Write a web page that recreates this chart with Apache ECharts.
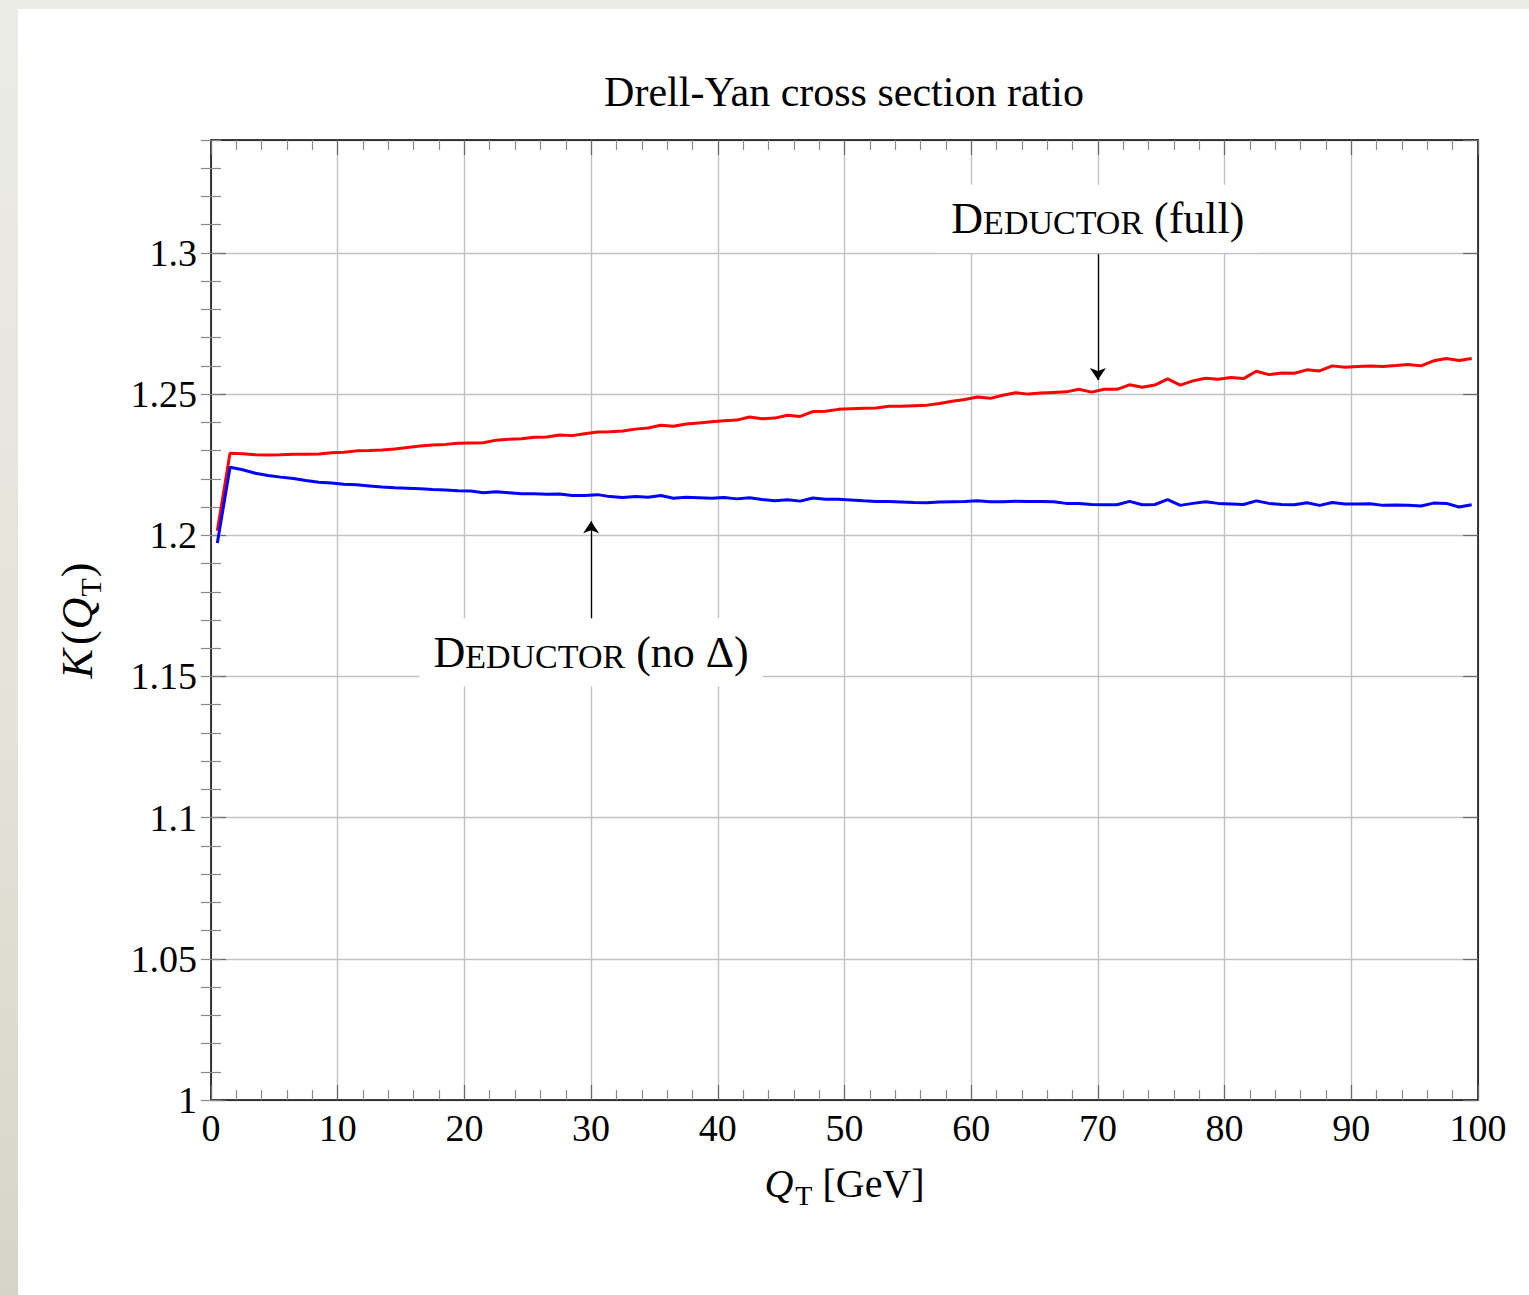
<!DOCTYPE html>
<html>
<head>
<meta charset="utf-8">
<title>Drell-Yan cross section ratio</title>
<script src="https://cdn.jsdelivr.net/npm/echarts@6/dist/echarts.min.js"></script>
<style>
  html, body { margin: 0; padding: 0; width: 1529px; height: 1295px; overflow: hidden;
    background: linear-gradient(180deg, #ecece6 0%, #e3e3da 55%, #d5d5c7 100%); }
  #page { position: absolute; left: 18px; top: 9px; right: 0; bottom: 0; background: #ffffff; }
  #chart { position: absolute; left: 0; top: 0; width: 1529px; height: 1295px; }
</style>
</head>
<body>
<div id="page"></div>
<div id="chart"></div>
<script>
// Bin centres of the transverse momentum Q_T [GeV]
const qt = [
  0.5, 1.5, 2.5, 3.5, 4.5, 5.5, 6.5, 7.5, 8.5, 9.5,
  10.5, 11.5, 12.5, 13.5, 14.5, 15.5, 16.5, 17.5, 18.5, 19.5,
  20.5, 21.5, 22.5, 23.5, 24.5, 25.5, 26.5, 27.5, 28.5, 29.5,
  30.5, 31.5, 32.5, 33.5, 34.5, 35.5, 36.5, 37.5, 38.5, 39.5,
  40.5, 41.5, 42.5, 43.5, 44.5, 45.5, 46.5, 47.5, 48.5, 49.5,
  50.5, 51.5, 52.5, 53.5, 54.5, 55.5, 56.5, 57.5, 58.5, 59.5,
  60.5, 61.5, 62.5, 63.5, 64.5, 65.5, 66.5, 67.5, 68.5, 69.5,
  70.5, 71.5, 72.5, 73.5, 74.5, 75.5, 76.5, 77.5, 78.5, 79.5,
  80.5, 81.5, 82.5, 83.5, 84.5, 85.5, 86.5, 87.5, 88.5, 89.5,
  90.5, 91.5, 92.5, 93.5, 94.5, 95.5, 96.5, 97.5, 98.5, 99.5
];

// K(Q_T), full Deductor shower
const kFull = [
  1.2016, 1.2291, 1.2289, 1.2285, 1.2284, 1.2285, 1.2287, 1.2287, 1.2288, 1.2292,
  1.2294, 1.2299, 1.2300, 1.2302, 1.2306, 1.2311, 1.2316, 1.2320, 1.2322, 1.2326,
  1.2327, 1.2328, 1.2337, 1.2340, 1.2342, 1.2347, 1.2348, 1.2355, 1.2353, 1.2360,
  1.2366, 1.2367, 1.2369, 1.2376, 1.2380, 1.2390, 1.2386, 1.2394, 1.2398, 1.2402,
  1.2406, 1.2408, 1.2419, 1.2413, 1.2415, 1.2425, 1.2421, 1.2438, 1.2439, 1.2446,
  1.2448, 1.2450, 1.2451, 1.2457, 1.2457, 1.2459, 1.2461, 1.2467, 1.2475, 1.2481,
  1.2490, 1.2485, 1.2496, 1.2505, 1.2500, 1.2504, 1.2506, 1.2508, 1.2517, 1.2507,
  1.2517, 1.2517, 1.2533, 1.2524, 1.2532, 1.2554, 1.2532, 1.2547, 1.2556, 1.2553,
  1.2559, 1.2555, 1.2581, 1.2569, 1.2575, 1.2574, 1.2586, 1.2582, 1.2600, 1.2595,
  1.2598, 1.2600, 1.2598, 1.2601, 1.2605, 1.2600, 1.2618, 1.2626, 1.2619, 1.2626
];

// K(Q_T), Deductor without the Delta factor
const kNoDelta = [
  1.1973, 1.2241, 1.2232, 1.2220, 1.2212, 1.2206, 1.2201, 1.2194, 1.2188, 1.2185,
  1.2181, 1.2179, 1.2175, 1.2171, 1.2168, 1.2167, 1.2165, 1.2162, 1.2160, 1.2158,
  1.2157, 1.2151, 1.2154, 1.2151, 1.2147, 1.2147, 1.2145, 1.2146, 1.2141, 1.2141,
  1.2144, 1.2137, 1.2134, 1.2137, 1.2135, 1.2141, 1.2131, 1.2135, 1.2133, 1.2131,
  1.2134, 1.2129, 1.2133, 1.2127, 1.2122, 1.2126, 1.2121, 1.2132, 1.2128, 1.2128,
  1.2125, 1.2122, 1.2120, 1.2120, 1.2118, 1.2116, 1.2115, 1.2118, 1.2119, 1.2120,
  1.2122, 1.2119, 1.2119, 1.2121, 1.2120, 1.2120, 1.2119, 1.2113, 1.2113, 1.2109,
  1.2108, 1.2108, 1.2120, 1.2108, 1.2109, 1.2126, 1.2106, 1.2113, 1.2119, 1.2113,
  1.2111, 1.2109, 1.2122, 1.2113, 1.2109, 1.2108, 1.2115, 1.2106, 1.2116, 1.2111,
  1.2111, 1.2112, 1.2106, 1.2107, 1.2106, 1.2104, 1.2114, 1.2113, 1.2100, 1.2108
];

// Axis ranges and tick spacing
const xRange = [0, 100];
const xMajor = 10;
const yRange = [1, 1.34];
const yMajor = 0.05;
const yMinor = 0.01;

// Annotation nodes: label anchor, arrow start (box edge) and arrow tip
const noteFull = { x: 70, y: 1.3121, from: 1.2996, to: 1.255 };
const noteNoDelta = { x: 30, y: 1.1586, from: 1.1703, to: 1.205 };

const FONT = "'Liberation Serif', 'Times New Roman', serif";
const BLACK = '#000000';

const chart = echarts.init(document.getElementById('chart'), null, { renderer: 'svg' });

const scRich = {
  D: { fontFamily: FONT, fontSize: 44, lineHeight: 44, verticalAlign: 'bottom', color: BLACK, opacity: 1 },
  sc: { fontFamily: FONT, fontSize: 34, lineHeight: 34, verticalAlign: 'bottom', padding: [0, 0, 1, 0], color: BLACK, opacity: 1 },
  t: { fontFamily: FONT, fontSize: 44, lineHeight: 44, verticalAlign: 'bottom', color: BLACK, opacity: 1 }
};

function tickAxisCommon(extra) {
  return Object.assign({
    type: 'value',
    axisLabel: { show: false },
    splitLine: { show: false },
    axisLine: { show: false },
    silent: true
  }, extra);
}

const option = {
  animation: false,
  backgroundColor: 'transparent',
  grid: { left: 211, top: 140, right: 51, bottom: 195, containLabel: false, outerBoundsMode: 'none' },
  graphic: [{
    type: 'text',
    x: 844, y: 92,
    style: {
      text: 'Drell-Yan cross section ratio',
      font: "42px 'Liberation Serif', serif",
      fill: BLACK,
      textAlign: 'center',
      textVerticalAlign: 'middle'
    },
    silent: true
  }],
  xAxis: [
    {
      type: 'value', min: xRange[0], max: xRange[1], interval: xMajor, position: 'bottom',
      axisLine: { show: true, onZero: false, lineStyle: { color: BLACK, width: 1.5 } },
      axisTick: { show: true, inside: true, length: 15, lineStyle: { color: '#6a6a6a', width: 1.2 } },
      minorTick: { show: true, splitNumber: 5, length: 10, lineStyle: { color: '#8a8a8a', width: 1.2 } },
      splitLine: { show: true, lineStyle: { color: '#c2c2c2', width: 1.4 } },
      axisLabel: { show: true, fontFamily: FONT, fontSize: 38, color: BLACK, margin: 9 },
      name: '{q|Q}{s|T}{t| [GeV]}',
      nameLocation: 'middle',
      nameGap: 69,
      nameTextStyle: {
        rich: {
          q: { fontFamily: FONT, fontStyle: 'italic', fontSize: 40, lineHeight: 40, verticalAlign: 'bottom', padding: [0, 2, 6, 0], color: BLACK },
          s: { fontFamily: FONT, fontSize: 28, lineHeight: 28, verticalAlign: 'bottom', color: BLACK },
          t: { fontFamily: FONT, fontSize: 40, lineHeight: 40, verticalAlign: 'bottom', padding: [0, 0, 6, 0], color: BLACK }
        }
      }
    },
    {
      type: 'value', min: xRange[0], max: xRange[1], interval: xMajor, position: 'top',
      axisLine: { show: true, onZero: false, lineStyle: { color: BLACK, width: 1.5 } },
      axisTick: { show: true, inside: true, length: 15, lineStyle: { color: '#6a6a6a', width: 1.2 } },
      minorTick: { show: true, splitNumber: 5, length: 10, lineStyle: { color: '#8a8a8a', width: 1.2 } },
      splitLine: { show: false },
      axisLabel: { show: false },
      silent: true
    }
  ],
  yAxis: [
    {
      type: 'value', min: yRange[0], max: yRange[1], interval: yMajor, position: 'left',
      axisLine: { show: true, onZero: false, lineStyle: { color: BLACK, width: 1.5 } },
      axisTick: { show: true, inside: true, length: 15, lineStyle: { color: '#6a6a6a', width: 1.2 } },
      splitLine: { show: true, lineStyle: { color: '#c2c2c2', width: 1.4 } },
      axisLabel: {
        show: true, fontFamily: FONT, fontSize: 38, color: BLACK, margin: 14,
        showMaxLabel: false,
        formatter: v => String(Math.round(v * 100) / 100)
      },
      name: '{k|K}{p|(}{q|Q}{s|T}{p|)}',
      nameLocation: 'middle',
      nameRotate: 90,
      nameGap: 106,
      nameTextStyle: {
        rich: {
          k: { fontFamily: FONT, fontStyle: 'italic', fontSize: 44, lineHeight: 44, verticalAlign: 'bottom', padding: [0, 3, 6, 0], color: BLACK },
          p: { fontFamily: FONT, fontSize: 44, lineHeight: 44, verticalAlign: 'bottom', padding: [0, 1, 6, 1], color: BLACK },
          q: { fontFamily: FONT, fontStyle: 'italic', fontSize: 44, lineHeight: 44, verticalAlign: 'bottom', padding: [0, 1, 6, 0], color: BLACK },
          s: { fontFamily: FONT, fontSize: 30, lineHeight: 30, verticalAlign: 'bottom', color: BLACK }
        }
      }
    },
    tickAxisCommon({
      min: yRange[0], max: yRange[1], interval: yMinor, position: 'left',
      axisTick: { show: true, inside: true, length: 10, lineStyle: { color: '#8a8a8a', width: 1.2 } }
    }),
    tickAxisCommon({
      min: yRange[0], max: yRange[1], interval: yMajor, position: 'right',
      axisLine: { show: true, onZero: false, lineStyle: { color: BLACK, width: 1.5 } },
      axisTick: { show: true, inside: true, length: 15, lineStyle: { color: '#6a6a6a', width: 1.2 } }
    }),
    tickAxisCommon({
      min: yRange[0], max: yRange[1], interval: yMinor, position: 'right',
      axisTick: { show: true, inside: true, length: 10, lineStyle: { color: '#8a8a8a', width: 1.2 } }
    })
  ],
  series: [
    {
      name: 'Deductor (full)',
      type: 'line',
      xAxisIndex: 0, yAxisIndex: 0,
      data: qt.map((x, i) => [x, kFull[i]]),
      showSymbol: false,
      symbol: 'none',
      lineStyle: { color: '#ff0000', width: 3 },
      itemStyle: { color: '#ff0000' },
      z: 3,
      silent: true
    },
    {
      name: 'Deductor (no Delta)',
      type: 'line',
      xAxisIndex: 0, yAxisIndex: 0,
      data: qt.map((x, i) => [x, kNoDelta[i]]),
      showSymbol: false,
      symbol: 'none',
      lineStyle: { color: '#0000ff', width: 3 },
      itemStyle: { color: '#0000ff' },
      z: 3,
      silent: true,
      markLine: {
        silent: true,
        symbol: ['none', 'arrow'],
        symbolSize: 12,
        lineStyle: { color: BLACK, width: 1.3, type: 'solid' },
        itemStyle: { color: BLACK },
        label: { show: false },
        emphasis: { disabled: true },
        data: [
          [{ coord: [noteFull.x, noteFull.from] }, { coord: [noteFull.x, noteFull.to] }],
          [{ coord: [noteNoDelta.x, noteNoDelta.from] }, { coord: [noteNoDelta.x, noteNoDelta.to] }]
        ]
      }
    },
    {
      name: 'annotations',
      type: 'scatter',
      xAxisIndex: 0, yAxisIndex: 0,
      data: [[noteFull.x, noteFull.y], [noteNoDelta.x, noteNoDelta.y]],
      symbolSize: 1,
      itemStyle: { color: '#ffffff' },
      z: 6,
      silent: true,
      label: {
        show: true,
        position: 'inside',
        color: BLACK,
        opacity: 1,
        textBorderWidth: 0,
        backgroundColor: '#ffffff',
        padding: [12, 14, 12, 14],
        formatter: p => p.dataIndex === 0
          ? '{D|D}{sc|EDUCTOR}{t| (full)}'
          : '{D|D}{sc|EDUCTOR}{t| (no \u0394)}',
        rich: scRich
      }
    }
  ]
};

chart.setOption(option);
</script>
</body>
</html>
